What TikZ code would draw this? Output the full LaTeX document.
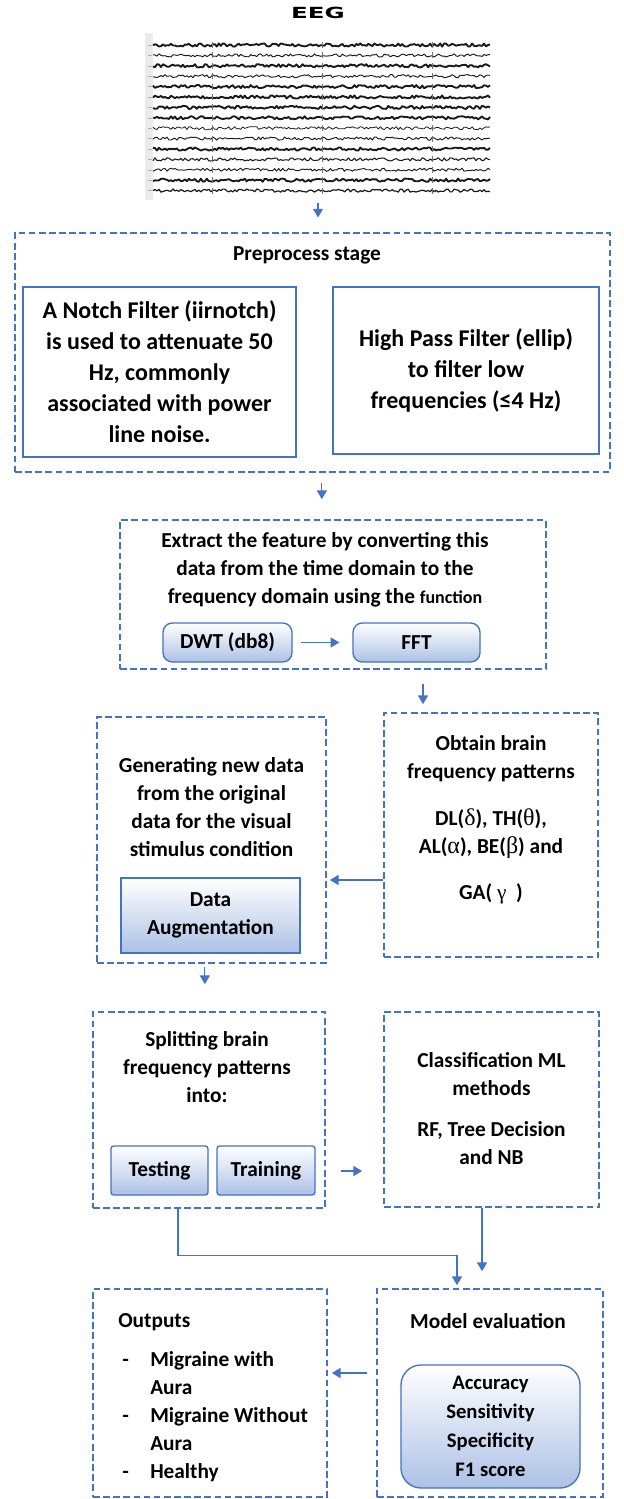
\documentclass[tikz,border=0pt]{standalone}
\usepackage{fontspec}
\setmainfont{Carlito}
\newfontfamily\eegfont{DejaVu Sans}
\newfontfamily\greekfont{Liberation Serif}
\usepackage{tikz}
\usetikzlibrary{positioning,arrows.meta}

\definecolor{boxblue}{RGB}{68,114,196}
\definecolor{shadeblue}{RGB}{172,193,230}
\newcommand\bodysize{\fontsize{16}{21}\selectfont}
\newcommand\notchsize{\fontsize{18}{23.25}\selectfont}
\newcommand\metricsize{\fontsize{15.5}{21.75}\selectfont}
\newcommand\fnsize{\fontsize{13.5}{21}\selectfont}
\newcommand\grk[1]{{\greekfont\mdseries\fontsize{18}{21}\selectfont #1}}

\begin{document}
\begin{tikzpicture}[x=0.75pt,y=-0.75pt,
	dashbox/.style={draw=boxblue, line width=1.3pt, dash pattern=on 5pt off 2.6pt, inner sep=0pt},
	solidbox/.style={draw=boxblue, line width=1.3pt, inner sep=0pt, align=center, font=\notchsize\bfseries},
	gradbox/.style={draw=boxblue, line width=1pt, top color=white, bottom color=shadeblue, inner sep=0pt, align=center, font=\bodysize\bfseries},
	txt/.style={align=center, font=\bodysize\bfseries, inner sep=0pt},
	flow/.style={draw=boxblue, line width=0.9pt, -{Triangle[width=7.5pt,length=6.5pt]}}]
		\useasboundingbox (0,0) rectangle (624,1499);
		
		% EEG recording
		\node[font=\eegfont\bfseries\fontsize{11.5}{13}\selectfont] (eegtitle) at (318,13) {\scalebox{1.6}[1]{EEG}};
		\fill[black!8] (145,33) rectangle (153,200);
		\pgfmathsetseed{7}
		\foreach \w [count=\i from 0] in {1.4,0.7,1.4,0.7,1.4,1.4,1.4,1.4,0.6,0.7,1.4,0.8,0.7,1.4,0.9}{
			\pgfmathsetmacro\yy{45+10.4*\i}
			\draw[black!30, line width=0.4pt] (148,\yy) -- ++(4,0);
			\draw[black!90, line width=\w pt, line join=round] plot[domain=153:490, samples=170] (\x,{\yy+1.6*rand});
		}
		\foreach \sx in {212,322,432}
			\foreach \i in {0,...,14}
				\draw[black!55, line width=0.5pt] (\sx,{42+10.4*\i}) -- ++(0,6);
		\coordinate (eegbot) at (318,201);
		
		% preprocess stage
		\node[dashbox, minimum width=446.25pt, minimum height=179.25pt] (pre) at (312.5,352.5) {};
		\node[txt] (pretitle) at (307,255) {Preprocess stage};
		\node[solidbox, minimum width=204.75pt, minimum height=127.5pt] (notch) at (159.5,372) {A Notch Filter (iirnotch)\\is used to attenuate 50\\Hz, commonly\\associated with power\\line noise.};
		\node[solidbox, minimum width=199.5pt, minimum height=125.25pt] (hpf) at (466,370.5) {High Pass Filter (ellip)\\to filter low\\frequencies (≤4 Hz)};
		
		% feature extraction
		\node[dashbox, minimum width=319.5pt, minimum height=111.75pt] (feat) at (333,594.5) {};
		\node[txt] (feattext) at (325,570) {Extract the feature by converting this\\data from the time domain to the\\frequency domain using the {\fnsize function}};
		\node[gradbox, rounded corners=7pt, minimum width=96.75pt, minimum height=29.25pt] (dwt) at (227.5,642.5) {DWT (db8)};
		\node[gradbox, rounded corners=7pt, minimum width=95.25pt, minimum height=29.25pt] (fft) at (416.5,642.5) {FFT};
		
		% brain patterns and augmentation
		\node[dashbox, minimum width=160.5pt, minimum height=183pt] (obtain) at (491,835) {};
		\node[txt] (obtaintext) at (491,820) {Obtain brain\\frequency patterns\\[14pt]DL(\grk{δ}), TH(\grk{θ}),\\AL(\grk{α}), BE(\grk{β}) and\\[14pt]GA(\ {\greekfont\mdseries γ}\ \ )};
		\node[dashbox, minimum width=171.75pt, minimum height=184.5pt] (gen) at (211.5,840) {};
		\node[txt] (gentext) at (211.5,807) {Generating new data\\from the original\\data for the visual\\stimulus condition};
		\node[gradbox, minimum width=134.25pt, minimum height=56.25pt] (aug) at (210.5,915.5) {Data\\Augmentation};
		
		% splitting and classification
		\node[dashbox, minimum width=174pt, minimum height=147pt] (split) at (209,1110) {};
		\node[txt] (splittext) at (207,1067) {Splitting brain\\frequency patterns\\into:};
		\node[gradbox, rounded corners=2pt, minimum width=72.75pt, minimum height=36.75pt] (test) at (159.5,1170.5) {Testing};
		\node[gradbox, rounded corners=2pt, minimum width=73.5pt, minimum height=36.75pt] (train) at (266,1170.5) {Training};
		\node[dashbox, minimum width=161.25pt, minimum height=146.25pt] (cls) at (491.5,1109.5) {};
		\node[txt] (clstext) at (491.5,1108.5) {Classification ML\\methods\\[9.75pt]RF, Tree Decision\\and NB};
		
		% evaluation and outputs
		\node[dashbox, minimum width=169.5pt, minimum height=156pt] (eval) at (490,1393) {};
		\node[txt] (evaltext) at (488,1321) {Model evaluation};
		\node[gradbox, rounded corners=15pt, minimum width=134.25pt, minimum height=92.25pt, font=\metricsize\bfseries] (metrics) at (490.5,1426.5) {Accuracy\\Sensitivity\\Specificity\\F1 score};
		\node[dashbox, minimum width=175.5pt, minimum height=156pt] (out) at (210,1393) {};
		\node[txt, anchor=west] (outtitle) at (118,1322) {Outputs};
		\node[txt, anchor=west, align=left] (outlist) at (122,1417) {\begin{tabular}{@{}p{21pt}@{}l@{}}-&Migraine with\\&Aura\\-&Migraine Without\\&Aura\\-&Healthy\end{tabular}};
		
		% connectors
		\draw[flow, shorten <=1.5pt, shorten >=11pt] (eegbot) -- (eegbot |- pre.north);
		\draw[flow, shorten <=7.5pt, shorten >=15pt] ([xshift=7pt]pre.south) -- ([xshift=7pt]pre.south |- feat.north);
		\draw[flow, shorten <=6pt, shorten >=9.75pt] (dwt) -- (fft);
		\draw[flow, shorten <=10.5pt, shorten >=6pt] ([xshift=-51pt]obtain.north |- feat.south) -- ([xshift=-51pt]obtain.north);
		\draw[flow, shorten >=2.25pt] ([yshift=-33.75pt]obtain.west) -- ([yshift=-33.75pt]obtain.west -| gen.east);
		\draw[flow, shorten <=2.25pt, shorten >=20.25pt] ([xshift=-5pt]gen.south) -- ([xshift=-5pt]gen.south |- split.north);
		\draw[flow, shorten <=11.25pt, shorten >=15.75pt] ([yshift=-45.75pt]split.east) -- ([yshift=-45.75pt]split.east -| cls.west);
		\draw[flow, shorten >=2.25pt] ([xshift=-23.25pt]split.south) -- ++(0,47) -| ([xshift=-24.75pt]eval.north);
		\draw[flow, shorten >=12.75pt] ([xshift=-7.1pt]cls.south) -- ([xshift=-7.1pt]cls.south |- eval.north);
		\draw[flow, shorten <=6.75pt, shorten >=3pt] ([yshift=15pt]eval.west) -- ([yshift=15pt]eval.west -| out.east);
	\end{tikzpicture}
\end{document}
